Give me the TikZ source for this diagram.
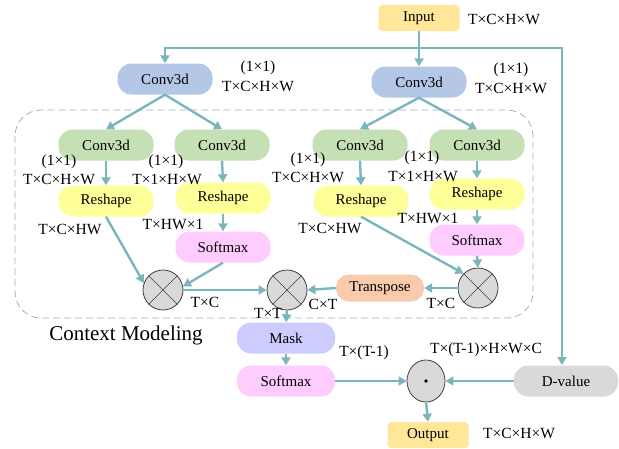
\documentclass[tikz,border=0pt]{standalone}
\usepackage{fontspec}
\setmainfont{Liberation Serif}
\usepackage{tikz}
\usetikzlibrary{arrows.meta,positioning,calc,shapes.geometric}

\definecolor{flowc}{HTML}{7AB6BB}
\definecolor{inpc}{HTML}{FFE699}
\definecolor{convc}{HTML}{B4C7E7}
\definecolor{greenc}{HTML}{C5E0B4}
\definecolor{reshc}{HTML}{FFFF99}
\definecolor{softc}{HTML}{FFCCFF}
\definecolor{transc}{HTML}{F8CBAD}
\definecolor{maskc}{HTML}{CCCCFF}
\definecolor{dvalc}{HTML}{D9D9D9}
\definecolor{dashc}{HTML}{A3ADC4}

\begin{document}
\begin{tikzpicture}[
    x=1pt, y=-1pt,
    pill/.style={rectangle, draw=none, rounded corners=14pt, minimum width=95pt, minimum height=31pt, inner sep=0pt, font=\fontsize{15}{18}\selectfont},
    io_box/.style={pill, fill=inpc, rounded corners=4pt, minimum width=81pt, minimum height=26pt},
    conv_top/.style={pill, fill=convc},
    conv_in/.style={pill, fill=greenc},
    reshbox/.style={pill, fill=reshc},
    softbox/.style={pill, fill=softc},
    transbox/.style={pill, fill=transc, minimum width=88pt, minimum height=27pt, rounded corners=13pt},
    maskbox/.style={pill, fill=maskc, minimum width=98pt},
    dvalbox/.style={pill, fill=dvalc, minimum width=104pt},
    opnode/.style={circle, draw=black!75, thick, fill=dvalc, minimum size=40pt, inner sep=0pt},
    dotnode/.style={ellipse, draw=black!75, thick, fill=dvalc, minimum width=38pt, minimum height=42pt, inner sep=0pt},
    dim/.style={font=\fontsize{15.5}{17}\selectfont, inner sep=0pt, align=center},
    flow/.style={-{Triangle[length=8pt,width=9pt]}, line width=2.4pt, draw=flowc}
]
    \useasboundingbox (0,0) rectangle (619,448);

    % --- INGRESSO ---
    \node[io_box] (inp) at (419,18) {Input};
    \node[dim] at (504,19) {T×C×H×W};
    \coordinate (split) at (419,48);
    \coordinate (rgt) at (562,48);

    \node[conv_top] (convA) at (165,79) {Conv3d};
    \node[dim] at (258,68) {(1×1)};
    \node[dim] at (258,86) {T×C×H×W};
    \node[conv_top] (convB) at (419,82) {Conv3d};
    \node[dim] at (511,70) {(1×1)};
    \node[dim] at (511,88) {T×C×H×W};

    \draw[flow] (inp.south) -- (convB.north);
    \draw[flow] (split) -| (convA.north);
    \draw[flow] (split) -- (rgt) -- (rgt |- 0,365);

    % --- CONTEXT MODELING ---
    \draw[dashc, thick, dashed, dash pattern=on 7pt off 4pt, rounded corners=26pt] (15,110) rectangle (533,318);
    \node[font=\fontsize{21}{24}\selectfont, inner sep=0pt] (ctx) at (126,335) {Context Modeling};

    \node[conv_in] (gA1) at (106,145) {Conv3d};
    \node[conv_in] (gA2) at (222,145) {Conv3d};
    \node[conv_in] (gB1) at (360,145) {Conv3d};
    \node[conv_in] (gB2) at (477,145) {Conv3d};
    \foreach \a/\b in {convA/gA1, convA/gA2, convB/gB1, convB/gB2}
        \draw[flow] (\a.south) -- (\b.north);

    \node[reshbox] (rA1) at (106,201) {Reshape};
    \node[reshbox] (rA2) at (223,198) {Reshape};
    \node[softbox] (sA2) at (223,247) {Softmax};
    \node[reshbox] (rB1) at (361,201) {Reshape};
    \node[reshbox] (rB2) at (477,194) {Reshape};
    \node[softbox] (sB2) at (477,240) {Softmax};

    \node[dim] at (59,162) {(1×1)};
    \node[dim] at (59,179) {T×C×H×W};
    \node[dim] at (166,162) {(1×1)};
    \node[dim] at (167,179) {T×1×H×W};
    \node[dim] at (308,160) {(1×1)};
    \node[dim] at (308,177) {T×C×H×W};
    \node[dim] at (422,158) {(1×1)};
    \node[dim] at (423,176) {T×1×H×W};
    \node[dim] at (70,229) {T×C×HW};
    \node[dim] at (173,224) {T×HW×1};
    \node[dim] at (330,228) {T×C×HW};
    \node[dim] at (428,218) {T×HW×1};

    % operatori prodotto
    \node[opnode] (otA) at (163,290) {};
    \node[opnode] (otM) at (287,290) {};
    \node[opnode] (otB) at (478,288) {};
    \foreach \o in {otA, otM, otB} {
        \draw[black!75] (\o.45) -- (\o.225);
        \draw[black!75] (\o.135) -- (\o.315);
    }
    \node[transbox] (trans) at (380,288) {Transpose};

    \draw[flow] (gA1.south) -- (rA1.north);
    \draw[flow] (gA2.south) -- (rA2.north);
    \draw[flow] (rA2.south) -- (sA2.north);
    \draw[flow] (gB1.south) -- (rB1.north);
    \draw[flow] (gB2.south) -- (rB2.north);
    \draw[flow] (rB2.south) -- (sB2.north);
    \draw[flow] (rA1.south) -- (otA.160);
    \draw[flow] (sA2.south) -- (otA.10);
    \draw[flow] (rB1.south) -- (otB.135);
    \draw[flow] (sB2.south) -- (otB.north);
    \draw[flow] (otA.east) -- (otM.west);
    \draw[flow] (otB.west) -- (trans.east);
    \draw[flow] (trans.west) -- (otM.east);

    \node[dim] at (205,302) {T×C};
    \node[dim] at (268,313) {T×T};
    \node[dim] at (323,304) {C×T};
    \node[dim] at (441,303) {T×C};

    % --- USCITA ---
    \node[maskbox] (mask) at (286,338) {Mask};
    \node[softbox, minimum width=98pt] (smx) at (286,381) {Softmax};
    \node[dotnode] (odot) at (426,381) {};
    \fill (odot.center) circle (1.8pt);
    \node[dvalbox] (dval) at (566,381) {D-value};
    \node[io_box] (out) at (428,435) {Output};

    \node[dim] at (364,353) {T×(T-1)};
    \node[dim] at (486,350) {T×(T-1)×H×W×C};
    \node[dim] at (519,433) {T×C×H×W};

    \draw[flow] (otM.south) -- (mask.north);
    \draw[flow] (mask.south) -- (smx.north);
    \draw[flow] (smx.east) -- (odot.west);
    \draw[flow] (dval.west) -- (odot.east);
    \draw[flow] (odot.south) -- (out.north);

\end{tikzpicture}
\end{document}
